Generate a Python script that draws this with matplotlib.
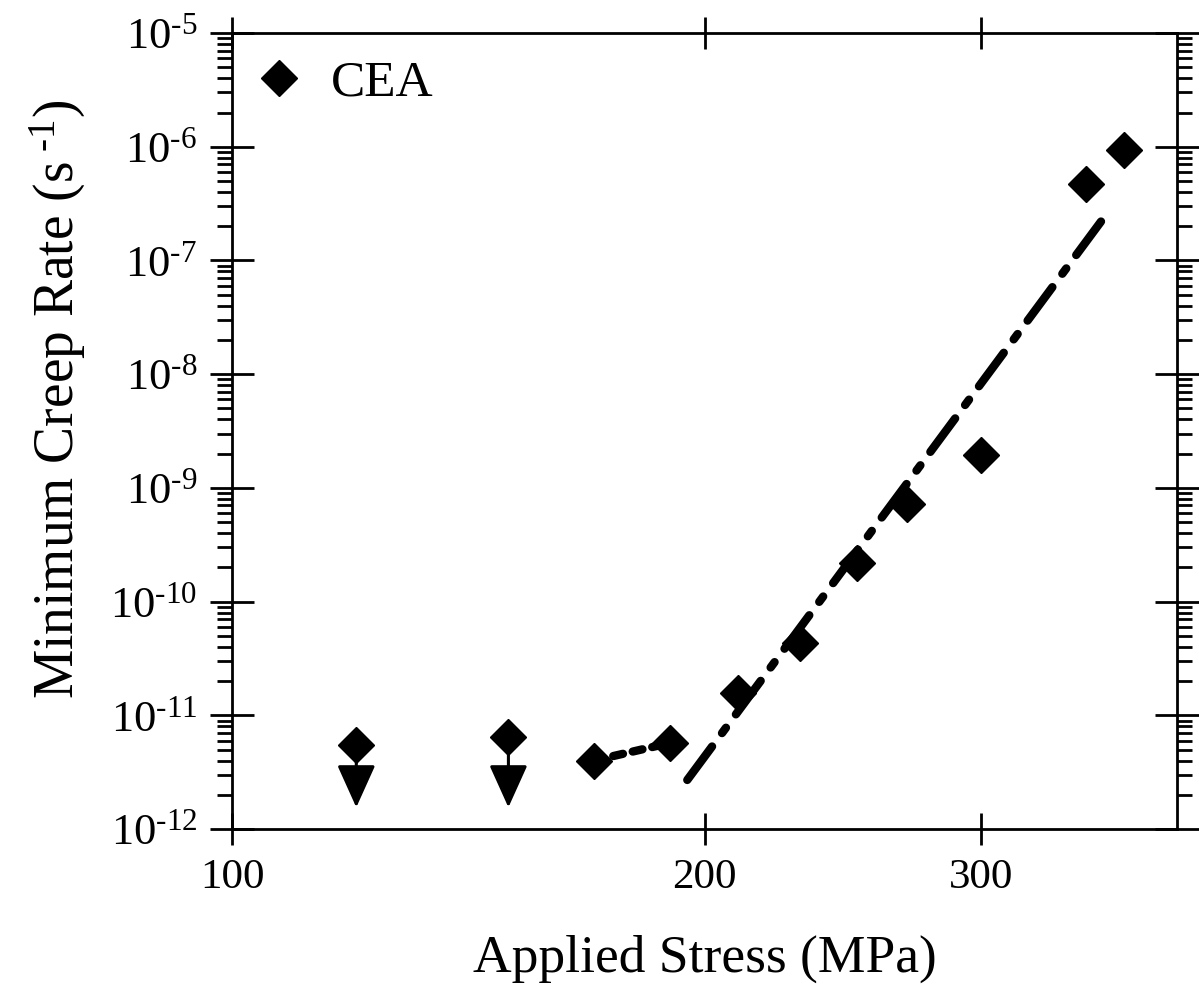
import matplotlib.pyplot as plt
import matplotlib.ticker as ticker
import numpy as np

plt.rcParams['font.family'] = ['Liberation Serif', 'DejaVu Serif']
plt.rcParams['mathtext.fontset'] = 'custom'
plt.rcParams['mathtext.rm'] = 'Liberation Serif'
plt.rcParams['mathtext.it'] = 'Liberation Serif:italic'

# CEA minimum creep rate data
stress = [120, 150, 170, 190, 210, 230, 250, 269, 300, 350, 370]
creep_rate = [5.5e-12, 6.4e-12, 4.0e-12, 5.7e-12, 1.57e-11, 4.3e-11,
              2.2e-10, 7.2e-10, 1.95e-9, 4.7e-7, 9.4e-7]

# run-outs (upper limits) drawn with a down arrow
limit_stress = [120, 150]
limit_rate = [5.5e-12, 6.4e-12]
arrow_tip = [1.55e-12, 1.55e-12]

# low stress segment and power-law fit
low_fit_stress = [170, 190]
low_fit_rate = [4.0e-12, 5.7e-12]
fit_stress = [195, 361]
fit_rate = [2.7e-12, 2.6e-7]


def log_label(val, pos):
    # hyphen rather than a math minus, like the original
    exp = int(round(np.log10(val)))
    return '10$^{\u2010%d}$' % abs(exp) if exp < 0 else '10$^{%d}$' % exp


fig = plt.figure(figsize=(11.99, 9.92), dpi=100)
ax = fig.add_axes([0.1935, 0.1643, 0.7882, 0.8024])

ax.plot(fit_stress, fit_rate, color='black', lw=6, solid_capstyle='round',
        dash_capstyle='round', dashes=(5, 2, 0.8, 2), zorder=3)
ax.plot(low_fit_stress, low_fit_rate, color='black', lw=6,
        dash_capstyle='round', dashes=(1.2, 1.2), zorder=3)

for x, y, tip in zip(limit_stress, limit_rate, arrow_tip):
    ax.annotate('', xy=(x, y), xytext=(x, tip),
                arrowprops=dict(arrowstyle='<|-,head_length=1.33,head_width=0.6',
                                color='black', lw=2.2, shrinkA=0, shrinkB=0,
                                mutation_scale=20))

ax.plot(stress, creep_rate, linestyle='none', marker='D', markersize=18,
        color='black', label='CEA', zorder=4)

ax.set_xscale('log')
ax.set_yscale('log')
ax.set_xlim(100, 400)
ax.set_ylim(1e-12, 1e-5)

ax.xaxis.set_major_locator(ticker.FixedLocator([100, 200, 300]))
ax.xaxis.set_major_formatter(ticker.FixedFormatter(['100', '200', '300']))
ax.xaxis.set_minor_locator(ticker.NullLocator())
ax.yaxis.set_major_locator(ticker.LogLocator(base=10, numticks=20))
ax.yaxis.set_minor_locator(ticker.LogLocator(base=10, subs=range(2, 10), numticks=20))
ax.yaxis.set_major_formatter(ticker.FuncFormatter(log_label))
ax.yaxis.set_minor_formatter(ticker.NullFormatter())

ax.tick_params(axis='x', which='major', direction='inout', length=23, width=2,
               top=True, bottom=True, labelsize=31, pad=10)
ax.tick_params(axis='y', which='major', direction='inout', length=32, width=2,
               left=True, right=True, labelsize=32, pad=9)
ax.tick_params(axis='y', which='minor', direction='out', length=11, width=2,
               left=True, right=True)

for s in ax.spines.values():
    s.set_linewidth(2)

ax.set_xlabel('Applied Stress (MPa)', fontsize=38.5, labelpad=27)
ax.set_ylabel('Minimum Creep Rate (s$^{\\ \u20101}$)', fontsize=40, labelpad=16)
ax.yaxis.label.set_y(0.54)

ax.legend(loc='upper left', frameon=False, fontsize=37, handlelength=0.8,
          handletextpad=0.6, borderaxespad=0.22, borderpad=0.3)

fig.savefig('out.png', dpi=100)
